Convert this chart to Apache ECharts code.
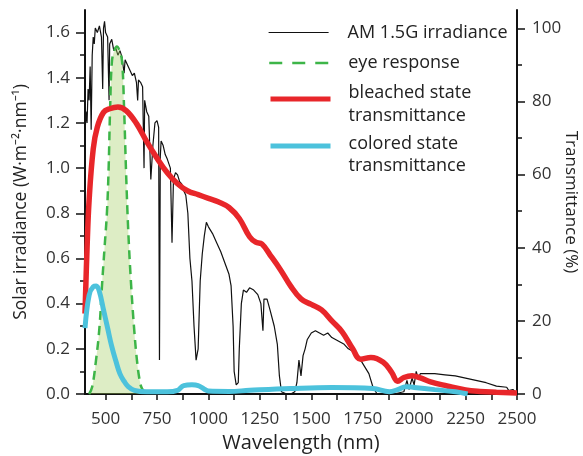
<!DOCTYPE html>
<html>
<head>
<meta charset="utf-8">
<script src="https://cdn.jsdelivr.net/npm/echarts@6/dist/echarts.min.js"></script>
<style>html,body{margin:0;padding:0;background:#fff}#c{width:583px;height:456px}</style>
</head>
<body>
<div id="c"></div>
<script>
// AM 1.5G irradiance (W m-2 nm-1)
const irrWl = [400,405,410,415,420,425,430,435,440,445,450,460,470,480,486,490,495,500,510,517,520,530,540,550,560,570,580,590,595,600,610,620,630,640,650,656,660,670,680,687,690,700,710,720,730,740,750,758,762,766,770,780,790,800,815,823,830,840,850,860,870,880,890,900,910,920,930,940,950,960,970,980,990,1000,1020,1040,1060,1080,1100,1110,1120,1125,1135,1145,1150,1160,1170,1185,1200,1220,1240,1255,1265,1270,1285,1300,1320,1335,1345,1355,1380,1400,1420,1430,1440,1450,1460,1470,1480,1500,1520,1540,1560,1580,1600,1620,1640,1660,1680,1700,1720,1740,1760,1780,1800,1820,1900,1950,1965,1975,1990,2000,2010,2020,2030,2060,2100,2150,2200,2250,2300,2350,2400,2450,2460,2480,2500];
const irrVal = [1.15,1.25,1.2,1.35,1.3,1.45,1.17,1.5,1.58,1.55,1.62,1.6,1.63,1.58,1.35,1.62,1.65,1.6,1.58,1.3,1.55,1.57,1.52,1.53,1.5,1.52,1.49,1.42,1.48,1.47,1.45,1.43,1.41,1.42,1.38,1.3,1.39,1.38,1.36,1.0,1.3,1.25,1.23,0.95,1.1,1.2,1.21,1.18,0.15,1.05,1.12,1.1,1.06,1.04,1.0,0.67,0.95,0.98,0.97,0.94,0.93,0.9,0.88,0.8,0.6,0.5,0.3,0.15,0.2,0.5,0.62,0.7,0.76,0.74,0.71,0.67,0.63,0.58,0.53,0.48,0.3,0.1,0.04,0.05,0.2,0.4,0.46,0.45,0.47,0.46,0.44,0.4,0.28,0.42,0.42,0.37,0.3,0.22,0.08,0.01,0,0,0.01,0.05,0.15,0.08,0.17,0.2,0.24,0.27,0.28,0.27,0.26,0.27,0.25,0.24,0.23,0.22,0.2,0.19,0.17,0.15,0.12,0.09,0.03,0,0,0.01,0.06,0.02,0.07,0.04,0.1,0.07,0.09,0.09,0.09,0.085,0.08,0.07,0.06,0.05,0.035,0.03,0.015,0.02,0];
// eye response (%)
const eyeWl = [420,435,453,470,483,495,507,515,522,531,543,555,567,580,590,600,610,624,640,653,665,677,700];
const eyeVal = [0,2,9,18,30,40,50,62,78,91,94,95,94,91,78,60,45,30,17,9,4,1.5,0];
// bleached state transmittance (%)
const blWl = [400,410,420,440,460,490,520,560,600,650,700,750,800,850,900,950,1000,1050,1100,1150,1200,1230,1260,1300,1350,1400,1450,1500,1550,1600,1650,1700,1740,1790,1850,1890,1920,1950,1990,2030,2080,2160,2250,2320,2400,2500];
const blVal = [22,40,53,67,73,77,78,78.5,77.5,74,69,64.5,60.5,57.5,55.5,54.5,53.5,52.5,51,48,43,41.5,41,38,34,29.5,26,24.5,23,20,17,12.5,9.5,10,8.7,6,3.5,4.5,5,4.4,3.3,2.2,1.1,0.7,0.5,0.3];
// colored state transmittance (%)
const coWl = [400,420,440,455,470,490,510,530,550,570,590,610,640,700,800,850,880,920,950,980,1000,1100,1200,1400,1600,1800,1880,1920,1960,2000,2100,2200,2260];
const coVal = [18,27,29.3,29.5,28,23,18,13,9,5.5,3.5,2,1,0.6,0.6,1,2.3,2.5,2.3,1.3,0.8,0.7,1,1.5,1.8,1.5,0.6,1.2,2,1.8,1.2,0.6,0];
// ticks
const xLabels = [500,750,1000,1250,1500,1750,2000,2250,2500];
const xTicks = [500,625,750,875,1000,1125,1250,1375,1500,1625,1750,1875,2000,2125,2250,2375,2500];
const yLeftLabels = [0,0.2,0.4,0.6,0.8,1.0,1.2,1.4,1.6];
const yLeftMinor = [0.1,0.3,0.5,0.7,0.9,1.1,1.3,1.5];
const yRightLabels = [0,20,40,60,80,100];
const yRightMinor = [10,30,50,70,90];
// legend text
const names = ['AM 1.5G irradiance', 'eye response', 'bleached state transmittance', 'colored state transmittance'];
const legendText = ['AM 1.5G irradiance', 'eye response', 'bleached state\ntransmittance', 'colored state\ntransmittance'];

const zip = (a, b) => a.map((v, i) => [v, b[i]]);
const FONT = 'Open Sans';

const chart = echarts.init(document.getElementById('c'), null, {renderer: 'canvas'});
const axisLine = {show: true, lineStyle: {color: '#111', width: 2}};
const tickStyle = {color: '#111', width: 1.5};
const labelStyle = {color: '#333', fontSize: 17, fontFamily: FONT};
const hiddenItem = {color: 'rgba(0,0,0,0)', borderWidth: 0, borderColor: 'rgba(0,0,0,0)'};

// mode: 'both' = icon + text, 'icon' = icon only, 'text' = text only
function legendFor(i, top, lineStyle, mode, lh) {
  const textOnly = mode === 'text';
  return {
    data: [names[i]],
    left: 268, top: top, orient: 'vertical', padding: 0,
    itemWidth: textOnly ? 0 : 60, itemHeight: 14,
    lineStyle: textOnly ? {width: 0, opacity: 0} : lineStyle,
    itemStyle: hiddenItem,
    selectedMode: false,
    formatter: () => (mode === 'icon' ? ' ' : legendText[i]),
    textStyle: {
      fontSize: 18, fontFamily: FONT, color: '#222', lineHeight: lh,
      padding: [0, 0, 0, textOnly ? 70 : 14]
    }
  };
}

chart.setOption({
  animation: false,
  backgroundColor: '#fff',
  textStyle: {fontFamily: FONT},
  grid: {left: 85, right: 66, top: 10, bottom: 62, containLabel: false, outerBoundsMode: 'none'},
  legend: [
    legendFor(0, 21, {width: 1.2, color: '#111'}, 'both', 23),
    legendFor(1, 51.5, {width: 2.5, color: '#3db548', type: [13, 10]}, 'both', 23),
    legendFor(2, 87.5, {width: 5, color: '#e8262a'}, 'icon', 23),
    legendFor(2, 81.5, null, 'text', 23),
    legendFor(3, 134.5, {width: 5, color: '#4cc2dc'}, 'icon', 23),
    legendFor(3, 132.5, null, 'text', 22)
  ],
  xAxis: [{
    type: 'value', min: 400, max: 2500,
    name: 'Wavelength (nm)', nameLocation: 'middle', nameGap: 39, nameMoveOverlap: false,
    nameTextStyle: {fontSize: 20, color: '#222', fontFamily: FONT},
    axisLine: axisLine,
    axisTick: {show: true, inside: false, length: 6, lineStyle: tickStyle, customValues: xTicks},
    axisLabel: Object.assign({margin: 17, customValues: xLabels, formatter: v => String(v)}, labelStyle),
    splitLine: {show: false}
  }, {
    type: 'value', min: 400, max: 2500, position: 'top',
    axisLine: axisLine, axisTick: {show: false}, axisLabel: {show: false}, splitLine: {show: false}
  }],
  yAxis: [{
    type: 'value', min: 0, max: 1.7, position: 'left',
    name: 'Solar irradiance (W·m⁻²·nm⁻¹)', nameLocation: 'middle', nameGap: 55, nameMoveOverlap: false,
    nameTextStyle: {fontSize: 17.5, color: '#222', fontFamily: FONT},
    axisLine: axisLine,
    axisTick: {show: true, inside: false, length: 9, lineStyle: tickStyle, customValues: yLeftLabels},
    axisLabel: Object.assign({margin: 15, customValues: yLeftLabels, formatter: v => v.toFixed(1)}, labelStyle),
    splitLine: {show: false}
  }, {
    type: 'value', min: 0, max: 105, position: 'right',
    name: 'Transmittance (%)', nameLocation: 'middle', nameGap: 45, nameRotate: -90, nameMoveOverlap: false,
    nameTextStyle: {fontSize: 17, color: '#222', fontFamily: FONT},
    axisLine: axisLine,
    axisTick: {show: true, inside: false, length: 8, lineStyle: tickStyle, customValues: yRightLabels},
    axisLabel: Object.assign({margin: 15, customValues: yRightLabels}, labelStyle),
    splitLine: {show: false}
  }, {
    type: 'value', min: 0, max: 1.7, position: 'left',
    axisLine: {show: false},
    axisTick: {show: true, inside: false, length: 5, lineStyle: tickStyle, customValues: yLeftMinor},
    axisLabel: {show: false}, splitLine: {show: false}
  }, {
    type: 'value', min: 0, max: 105, position: 'right',
    axisLine: {show: false},
    axisTick: {show: true, inside: false, length: 5, lineStyle: tickStyle, customValues: yRightMinor},
    axisLabel: {show: false}, splitLine: {show: false}
  }],
  series: [{
    name: names[0], type: 'line', yAxisIndex: 0, symbol: 'none', showSymbol: false,
    data: zip(irrWl, irrVal),
    lineStyle: {color: '#111', width: 1.2}, itemStyle: {color: '#111'}, z: 2
  }, {
    name: names[1], type: 'line', yAxisIndex: 1, symbol: 'none', showSymbol: false, smooth: 0.4,
    data: zip(eyeWl, eyeVal),
    lineStyle: {color: '#3db548', width: 2.5, type: [9, 6]}, itemStyle: {color: '#3db548'},
    areaStyle: {color: 'rgba(160,205,90,0.5)'}, z: 3
  }, {
    name: names[2], type: 'line', yAxisIndex: 1, symbol: 'none', showSymbol: false, smooth: 0.4,
    data: zip(blWl, blVal),
    lineStyle: {color: '#e8262a', width: 5.5}, itemStyle: {color: '#e8262a'}, z: 4
  }, {
    name: names[3], type: 'line', yAxisIndex: 1, symbol: 'none', showSymbol: false, smooth: 0.4,
    data: zip(coWl, coVal),
    lineStyle: {color: '#4cc2dc', width: 5}, itemStyle: {color: '#4cc2dc'}, z: 5
  }]
});
</script>
</body>
</html>
